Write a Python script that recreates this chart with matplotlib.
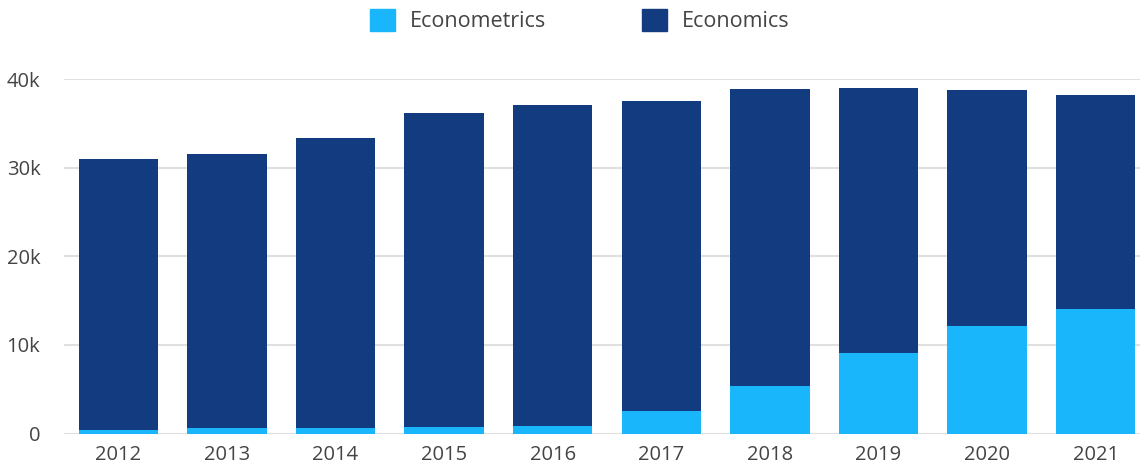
import matplotlib
matplotlib.use('Agg')
from matplotlib import pyplot as plt
from matplotlib.patches import Patch
from matplotlib.ticker import FuncFormatter

years = ['2012', '2013', '2014', '2015', '2016', '2017', '2018', '2019', '2020', '2021']
econometrics = [400, 620, 620, 730, 850, 2540, 5360, 9090, 12130, 14050]
totals = [30980, 31550, 33350, 36200, 37100, 37560, 38880, 39000, 38770, 38200]
economics = [t - e for t, e in zip(totals, econometrics)]

light = '#19b6fb'
dark = '#133c80'
text_color = '#444444'

plt.rcParams['font.family'] = ['Open Sans', 'DejaVu Sans']

fig = plt.figure(figsize=(11.4, 4.68), dpi=100)
ax = fig.add_axes([64 / 1140, 34.5 / 468, (1150 - 64) / 1140, (433.5 - 79) / 468])

x = range(len(years))
ax.bar(x, econometrics, width=0.73, color=light, zorder=3)
ax.bar(x, economics, width=0.73, bottom=econometrics, color=dark, zorder=3)

ax.set_xlim(-0.5, len(years) - 0.5)
ax.set_ylim(0, 40000)
ax.set_yticks([0, 10000, 20000, 30000, 40000])
ax.yaxis.set_major_formatter(FuncFormatter(lambda v, p: '0' if v == 0 else '%dk' % (v / 1000)))
ax.set_xticks(list(x))
ax.set_xticklabels(years)

ax.grid(axis='y', color='#e0e0e0', linewidth=1.5, zorder=0)
ax.set_axisbelow(True)
for s in ax.spines.values():
    s.set_visible(False)
ax.tick_params(axis='both', length=0, labelsize=14.5, colors=text_color)
ax.tick_params(axis='y', pad=17)
ax.tick_params(axis='x', pad=8)

handles = [Patch(color=light, label='Econometrics'), Patch(color=dark, label='Economics')]
leg = fig.legend(handles=handles, loc='upper center', bbox_to_anchor=(580 / 1140, 1.012),
                 ncol=2, frameon=False, fontsize=15.5, handlelength=1.16, handleheight=1.16,
                 columnspacing=4.45, handletextpad=0.7, borderaxespad=0.3)
for t in leg.get_texts():
    t.set_color(text_color)

fig.savefig('out.png', dpi=100)
